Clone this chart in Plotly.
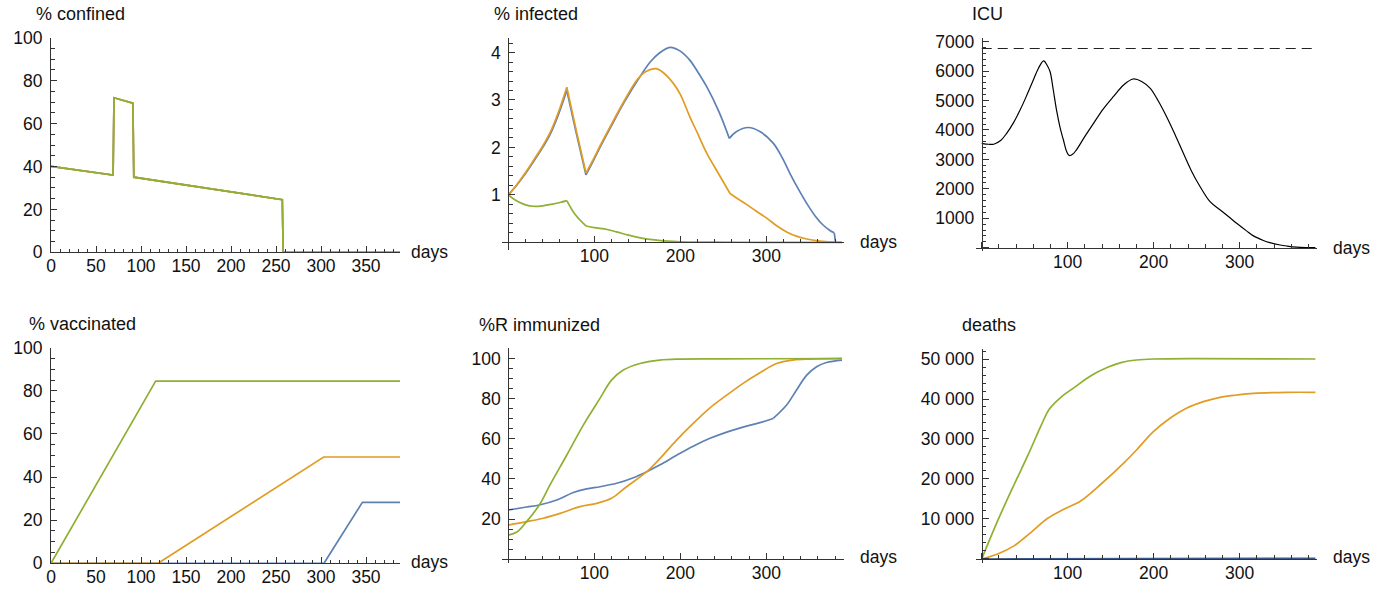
import plotly.graph_objects as go

W, H = 1380, 590
BLUE, ORANGE, GREEN = "#5E81B5", "#E19C24", "#8FB032"
FONT = "Liberation Sans, Arial, sans-serif"

# ---------------- data ----------------
# % confined (all three scenarios identical)
conf_days = [0, 69, 70, 91, 92, 257, 258, 388]
conf_vals = [40, 36, 72, 69.5, 35, 24.5, 0, 0]

# % infected
inf_blue_days = [0, 10, 20, 29, 40, 48.5, 58, 68, 79, 90.3, 100, 106.6, 120, 135, 153, 165, 175, 188, 200,
                 211, 220, 230.7, 245, 257, 265, 279, 293, 308, 318, 327.6, 337, 347, 357, 366, 374, 379, 380.5]
inf_blue_vals = [1.0, 1.21, 1.45, 1.69, 2.0, 2.27, 2.68, 3.2, 2.3, 1.42, 1.76, 2.0, 2.46, 2.96, 3.49, 3.80, 3.98, 4.11, 4.03,
                 3.84, 3.6, 3.28, 2.75, 2.19, 2.33, 2.42, 2.33, 2.09, 1.8, 1.45, 1.13, 0.82, 0.55, 0.365, 0.25, 0.20, 0.0]
inf_blue_kinks = [68, 90.3, 257, 379]
inf_orange_days = [0, 10, 20, 29, 40, 48.5, 58, 68, 79, 90.3, 100, 106.6, 120, 135, 150, 160, 171.7, 180, 191.9, 200,
                   211, 220, 230.7, 245, 257.8, 265, 277, 288, 300.5, 312, 323.7, 335, 347, 360, 375, 388]
inf_orange_vals = [1.0, 1.22, 1.47, 1.72, 2.03, 2.31, 2.73, 3.27, 2.36, 1.46, 1.79, 2.03, 2.49, 2.99, 3.43, 3.6, 3.66, 3.58, 3.35, 3.12,
                   2.65, 2.3, 1.88, 1.43, 1.03, 0.94, 0.80, 0.66, 0.51, 0.35, 0.22, 0.13, 0.07, 0.03, 0.01, 0.0]
inf_orange_kinks = [68, 90.3, 257.8]
inf_green_days = [0, 10, 20, 29, 40, 50, 60, 68, 78, 90.3, 100, 115, 126, 140, 155, 170, 185, 200, 230, 270, 388]
inf_green_vals = [1.0, 0.87, 0.79, 0.76, 0.77, 0.80, 0.84, 0.88, 0.58, 0.344, 0.31, 0.27, 0.22, 0.15, 0.09, 0.05, 0.025, 0.012, 0.004, 0.001, 0.0]
inf_green_kinks = [68, 90.3]

# ICU
icu_days = [0, 8, 14, 22, 29, 37, 44.6, 52, 60, 66, 72, 76, 79.5, 83, 87, 91, 95, 99, 102, 106, 110, 120, 130, 141,
            153, 165, 176, 186, 196, 205, 215, 225, 234.5, 244, 254, 265.5, 277, 288.7, 296.5, 308, 316, 327.5, 335,
            347, 355, 366, 378, 388]
icu_vals = [3547, 3515, 3515, 3640, 3885, 4250, 4677, 5150, 5696, 6100, 6350, 6200, 5980, 5400, 4677, 4100, 3658, 3250,
            3126, 3180, 3318, 3780, 4224, 4700, 5130, 5530, 5732, 5650, 5413, 5000, 4450, 3830, 3205, 2600, 2072, 1563,
            1290, 1015, 830, 570, 400, 245, 170, 90, 55, 20, 5, 0]
icu_capacity = 6770

# % vaccinated
vac_green_days = [0, 116.3, 388]
vac_green_vals = [0, 84.5, 84.5]
vac_orange_days = [0, 119, 303, 388]
vac_orange_vals = [0, 0, 49.3, 49.3]
vac_blue_days = [0, 303.3, 346, 388]
vac_blue_vals = [0, 0, 28.3, 28.3]

# %R immunized
imm_blue_days = [0, 21.3, 36, 56.3, 75.6, 91, 106.6, 126, 145.4, 161, 176.5, 195.7, 215, 234.5, 254, 273, 292.6, 308,
                 323.6, 335, 347, 358.5, 370, 388]
imm_blue_vals = [24.5, 26.0, 27.0, 29.5, 33.2, 35.0, 36.1, 37.8, 40.6, 43.6, 47.0, 51.8, 56.3, 60.2, 63.3, 65.8, 68.0, 70.1,
                 76.8, 84.2, 91.7, 95.9, 98.0, 99.2]
imm_blue_kinks = [308]
imm_orange_days = [0, 21.3, 40.7, 60.2, 83.4, 102.8, 120, 137.6, 161, 176.5, 195.7, 215, 234.5, 254, 273, 292.6, 312,
                   331, 351, 388]
imm_orange_vals = [17.0, 18.7, 20.4, 22.8, 26.2, 27.8, 30.3, 36.1, 43.6, 50.2, 59.3, 67.6, 75.4, 81.7, 87.6,
                   92.9, 97.5, 99.2, 99.7, 100]
imm_green_days = [0, 10, 21.3, 36, 48.5, 68, 87.2, 106.6, 120, 133.7, 153, 176, 200, 250, 388]
imm_green_vals = [12.0, 13.5, 18.7, 27.0, 37.0, 51.9, 66.8, 80.1, 89.2, 94.2, 97.5, 99.2, 99.7, 99.8, 99.9]

# deaths
dth_green_days = [0, 18.6, 38, 53.5, 69, 78.7, 92, 107.8, 127, 146.5, 163, 180, 199.6, 250, 388]
dth_green_vals = [0, 9583, 18750, 25830, 33330, 37500, 40420, 42920, 45830, 47920, 49170, 49750, 50000, 50100, 50000]
dth_orange_days = [0, 18.6, 38, 57.4, 76.7, 96, 115.5, 138.8, 166, 180, 199.6, 219, 238, 257.7, 277, 296.5, 316, 354.7, 388]
dth_orange_vals = [0, 1250, 3333, 6667, 10170, 12500, 14580, 18750, 24170, 27250, 31830, 35170, 37670, 39330, 40420,
                   41000, 41420, 41670, 41670]
dth_blue_days = [0, 100, 200, 300, 388]
dth_blue_vals = [0, 50, 100, 150, 170]

# ---------------- layout geometry (pixels) ----------------
panels = {
    1: dict(xr=[0, 388], yr=[0, 100], xp=[51, 400.2], yp=[37.7, 252.3], free=False),
    2: dict(xr=[-7, 390], yr=[-0.162, 4.30], xp=[502.3, 843.7], yp=[38.3, 250.0], free=True),
    3: dict(xr=[-7, 390], yr=[-100, 7115], xp=[975.7, 1317.1], yp=[38.3, 250.6], free=True),
    4: dict(xr=[0, 388], yr=[0, 100], xp=[51, 400.2], yp=[347.7, 563.3], free=False),
    5: dict(xr=[-7, 390], yr=[-2, 105.4], xp=[502.3, 843.7], yp=[347.6, 563.2], free=True),
    6: dict(xr=[-7, 390], yr=[-1080, 52400], xp=[975.7, 1317.1], yp=[349.4, 563.3], free=True),
}

AX = "#333333"
TICKFONT = dict(family=FONT, size=17.5, color="#111111")
base = dict(showgrid=False, zeroline=False, showline=True, linecolor=AX, linewidth=1,
            ticks="inside", ticklen=6, tickwidth=1, tickcolor=AX, automargin=False,
            tickfont=TICKFONT, fixedrange=True)

tickspec = {
    1: (dict(tick0=0, dtick=50, minor=dict(dtick=10)), dict(tick0=0, dtick=20, minor=dict(dtick=5))),
    2: (dict(tick0=0, dtick=100, minor=dict(dtick=20)), dict(tick0=0, dtick=1, minor=dict(dtick=0.2))),
    3: (dict(tick0=0, dtick=100, minor=dict(dtick=20)), dict(tick0=0, dtick=1000, tickformat="d", minor=dict(dtick=200))),
    4: (dict(tick0=0, dtick=50, minor=dict(dtick=10)), dict(tick0=0, dtick=20, minor=dict(dtick=5))),
    5: (dict(tick0=0, dtick=100, minor=dict(dtick=20)), dict(tick0=0, dtick=20, minor=dict(dtick=5))),
    6: (dict(tick0=0, dtick=100, minor=dict(dtick=20)), dict(tick0=0, dtick=10000, tickformat=",d", minor=dict(dtick=2000))),
}

layout = dict(width=W, height=H, margin=dict(l=0, r=0, t=0, b=0), showlegend=False,
              paper_bgcolor="white", plot_bgcolor="white", separators=". ")

for i, p in panels.items():
    xn = "xaxis" if i == 1 else f"xaxis{i}"
    yn = "yaxis" if i == 1 else f"yaxis{i}"
    xd = [p["xp"][0] / W, p["xp"][1] / W]
    yd = [1 - p["yp"][1] / H, 1 - p["yp"][0] / H]
    xs, ys = tickspec[i]
    xa = dict(base, domain=xd, range=p["xr"], tickmode="linear", **xs)
    ya = dict(base, domain=yd, range=p["yr"], tickmode="linear", **ys)
    for a in (xa, ya):
        a["minor"] = dict(a["minor"], ticks="inside", ticklen=3.5, tickwidth=1, tickcolor=AX, tick0=0)
    if p["free"]:
        y0px = p["yp"][0] + (p["yr"][1] - 0) / (p["yr"][1] - p["yr"][0]) * (p["yp"][1] - p["yp"][0])
        x0px = p["xp"][0] + (0 - p["xr"][0]) / (p["xr"][1] - p["xr"][0]) * (p["xp"][1] - p["xp"][0])
        xa.update(anchor="free", position=1 - y0px / H, labelalias={"0": " "})
        ya.update(anchor="free", position=x0px / W, labelalias={"0": " "})
    else:
        xa["anchor"] = "y" if i == 1 else f"y{i}"
        ya["anchor"] = "x" if i == 1 else f"x{i}"
    xa["ticklabelstandoff"] = -2
    ya["ticklabelstandoff"] = 4
    layout[xn] = xa
    layout[yn] = ya

fig = go.Figure()


def add(i, x, y, color, width=1.7, dash=None, shape="linear", kinks=None):
    """Draw a series; if kinks are given, split there and smooth each piece separately."""
    pieces = [(list(x), list(y))]
    if kinks:
        pieces = []
        start = 0
        for k in kinks:
            j = min(range(len(x)), key=lambda n: abs(x[n] - k))
            pieces.append((x[start:j + 1], y[start:j + 1]))
            start = j
        pieces.append((x[start:], y[start:]))
    for px_, py_ in pieces:
        if len(px_) < 2:
            continue
        fig.add_trace(go.Scatter(x=px_, y=py_, mode="lines",
                                 line=dict(color=color, width=width, dash=dash, shape=shape),
                                 xaxis="x" if i == 1 else f"x{i}", yaxis="y" if i == 1 else f"y{i}",
                                 hoverinfo="skip"))


# panel 1
add(1, conf_days, conf_vals, BLUE)
add(1, conf_days, conf_vals, ORANGE)
add(1, conf_days, conf_vals, GREEN)
# panel 2
add(2, inf_blue_days, inf_blue_vals, BLUE, shape="spline", kinks=inf_blue_kinks)
add(2, inf_orange_days, inf_orange_vals, ORANGE, shape="spline", kinks=inf_orange_kinks)
add(2, inf_green_days, inf_green_vals, GREEN, shape="spline", kinks=inf_green_kinks)
# panel 3
add(3, [0, panels[3]["xr"][1]], [icu_capacity, icu_capacity], "#222222", width=1.1, dash="10px,6px")
add(3, icu_days, icu_vals, "#000000", width=1.2, shape="spline")
# panel 4
add(4, vac_blue_days, vac_blue_vals, BLUE)
add(4, vac_orange_days, vac_orange_vals, ORANGE)
add(4, vac_green_days, vac_green_vals, GREEN)
# panel 5
add(5, imm_blue_days, imm_blue_vals, BLUE, shape="spline", kinks=imm_blue_kinks)
add(5, imm_orange_days, imm_orange_vals, ORANGE, shape="spline")
add(5, imm_green_days, imm_green_vals, GREEN, shape="spline")
# panel 6
add(6, dth_blue_days, dth_blue_vals, "#3D5A8A")
add(6, dth_orange_days, dth_orange_vals, ORANGE, shape="spline")
add(6, dth_green_days, dth_green_vals, GREEN, shape="spline")

# texts: titles above y axes, "days" at end of x axes  (left px, center y px)
titles = [("% confined", 34.3, 14), ("% infected", 492.3, 14), ("ICU", 970, 14),
          ("% vaccinated", 26.7, 324.3), ("%R immunized", 476.7, 325), ("deaths", 960, 325)]
days_pos = [(409, 252), (858, 242), (1331, 248), (409, 562), (858, 557), (1331, 557)]
ann = []
for t, xp, yp in titles:
    ann.append(dict(text=t, x=xp / W, y=1 - yp / H, xref="paper", yref="paper", xanchor="left",
                    yanchor="middle", showarrow=False, font=dict(family=FONT, size=18, color="#111111")))
for xp, yp in days_pos:
    ann.append(dict(text="days", x=xp / W, y=1 - yp / H, xref="paper", yref="paper", xanchor="left",
                    yanchor="middle", showarrow=False, font=dict(family=FONT, size=17.5, color="#111111")))
layout["annotations"] = ann

fig.update_layout(**layout)
fig.write_html("out.html", config={"displayModeBar": False, "staticPlot": True},
               post_script="document.body.style.margin='0';document.body.style.padding='0';")
